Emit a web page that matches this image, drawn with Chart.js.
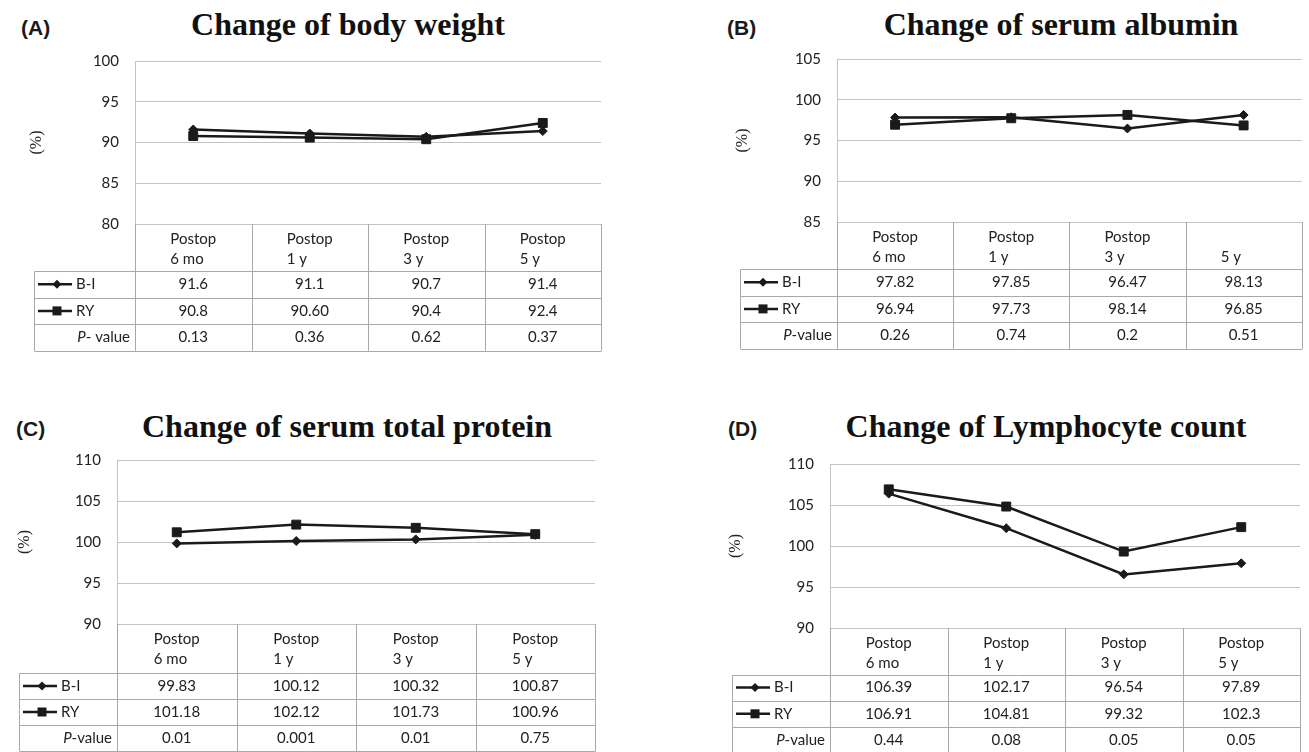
<!DOCTYPE html>
<html><head><meta charset="utf-8">
<script src="https://cdn.jsdelivr.net/npm/chart.js@4.4.0/dist/chart.umd.min.js"></script>
<style>
html,body{margin:0;padding:0;background:#fff;}
body{width:1309px;height:752px;position:relative;overflow:hidden;}
.tag{position:absolute;font:bold 21px "Liberation Sans",Arial,sans-serif;line-height:21px;color:#1a1a1a;white-space:nowrap;}
.ttl{position:absolute;font:bold 32px "Liberation Serif","Times New Roman",serif;line-height:32px;color:#111;transform:translateX(-50%);white-space:nowrap;}
canvas{position:absolute;}
</style></head><body>
<script>
// ---------- data ----------
const categories = [['Postop','6 mo'],['Postop','1 y'],['Postop','3 y'],['Postop','5 y']];
const categoriesB = [['Postop','6 mo'],['Postop','1 y'],['Postop','3 y'],['','5 y']];
const seriesNames = ['B-I','RY'];
const yAxisLabel = '(%)';
const panelTags = ['(A)','(B)','(C)','(D)'];
const pLabels = ['P- value','P-value','P-value','P-value'];

const weightTitle = 'Change of body weight';
const weightBI = ['91.6','91.1','90.7','91.4'];
const weightRY = ['90.8','90.60','90.4','92.4'];
const weightP = ['0.13','0.36','0.62','0.37'];
const weightTicks = [80,85,90,95,100];

const albuminTitle = 'Change of serum albumin';
const albuminBI = ['97.82','97.85','96.47','98.13'];
const albuminRY = ['96.94','97.73','98.14','96.85'];
const albuminP = ['0.26','0.74','0.2','0.51'];
const albuminTicks = [85,90,95,100,105];

const proteinTitle = 'Change of serum total protein';
const proteinBI = ['99.83','100.12','100.32','100.87'];
const proteinRY = ['101.18','102.12','101.73','100.96'];
const proteinP = ['0.01','0.001','0.01','0.75'];
const proteinTicks = [90,95,100,105,110];

const lymphTitle = 'Change of Lymphocyte count';
const lymphBI = ['106.39','102.17','96.54','97.89'];
const lymphRY = ['106.91','104.81','99.32','102.3'];
const lymphP = ['0.44','0.08','0.05','0.05'];
const lymphTicks = [90,95,100,105,110];

// ---------- layout (page coordinates) ----------
const layouts = [
 {x:0,   y:0,   w:654, h:376, plotL:135, plotR:601,  plotT:61,  plotB:224, tableL:34,  headH:47, rowH:26.6, pctX:37,  titleX:348,  titleY:8,   tagX:21,  tagY:17},
 {x:654, y:0,   w:655, h:376, plotL:837, plotR:1305, plotT:59,  plotB:222, tableL:740, headH:47, rowH:26.6, pctX:743, titleX:1061, titleY:8,   tagX:727, tagY:17},
 {x:0,   y:376, w:654, h:376, plotL:117, plotR:595,  plotT:460, plotB:624, tableL:19,  headH:49, rowH:26,   pctX:25,  titleX:347, titleY:410, tagX:16,  tagY:418},
 {x:654, y:376, w:655, h:376, plotL:830, plotR:1300, plotT:464, plotB:628, tableL:732, headH:46.5, rowH:26.2, pctX:736, titleX:1046, titleY:410, tagX:728, tagY:418}
];

const panels = [
 {title:weightTitle,  cats:categories,  bi:weightBI,  ry:weightRY,  p:weightP,  ticks:weightTicks},
 {title:albuminTitle, cats:categoriesB, bi:albuminBI, ry:albuminRY, p:albuminP, ticks:albuminTicks},
 {title:proteinTitle, cats:categories,  bi:proteinBI, ry:proteinRY, p:proteinP, ticks:proteinTicks},
 {title:lymphTitle,   cats:categories,  bi:lymphBI,   ry:lymphRY,   p:lymphP,   ticks:lymphTicks}
];

const LINE = '#1a1a1a';
const GRID = '#c3c3c3';
const TBL = '#a8a8a8';
const TXT = '#222';
const FONT = 'Lato, "Noto Sans", sans-serif';

function px(v){ return Math.round(v) + 0.5; }

function drawDiamond(ctx, x, y, r){
  ctx.beginPath(); ctx.moveTo(x, y-r); ctx.lineTo(x+r, y); ctx.lineTo(x, y+r); ctx.lineTo(x-r, y); ctx.closePath(); ctx.fill();
}

function makeTablePlugin(pi){
  const L = layouts[pi], P = panels[pi];
  return {
    id:'table'+pi,
    afterDraw(chart){
      const ctx = chart.ctx;
      const {left, right, bottom} = chart.chartArea;
      const xs = chart.scales.x;
      const n = P.cats.length;
      const cw = (right-left)/n;
      const tL = L.tableL - L.x;
      const y0 = bottom, y1 = y0 + L.headH, y2 = y1 + L.rowH, y3 = y2 + L.rowH, y4 = y3 + L.rowH;
      ctx.save();
      ctx.strokeStyle = TBL; ctx.lineWidth = 1;
      ctx.beginPath();
      for (let i=0;i<=n;i++){ const x = px(left + i*cw); ctx.moveTo(x, y0); ctx.lineTo(x, y4); }
      ctx.moveTo(px(tL), px(y1)); ctx.lineTo(px(tL), y4);
      [y1,y2,y3,y4].forEach(y=>{ ctx.moveTo(px(tL), px(y)); ctx.lineTo(px(right), px(y)); });
      ctx.stroke();

      ctx.fillStyle = TXT;
      ctx.font = '15px ' + FONT;
      ctx.textBaseline = 'middle';
      const pw = ctx.measureText('Postop').width;
      for (let i=0;i<n;i++){
        const cx = xs.getPixelForValue(i);
        const [l1, l2] = P.cats[i];
        if (l1){ ctx.textAlign = 'center'; ctx.fillText(l1, cx, y0 + 15); }
        ctx.textAlign = 'left'; ctx.fillText(l2, cx - pw/2, y0 + 35);
        ctx.textAlign = 'center';
        ctx.fillText(P.bi[i], cx, (y1+y2)/2);
        ctx.fillText(P.ry[i], cx, (y2+y3)/2);
        ctx.fillText(P.p[i],  cx, (y3+y4)/2);
      }
      // legend keys
      const rows = [(y1+y2)/2, (y2+y3)/2];
      ctx.strokeStyle = LINE; ctx.fillStyle = LINE; ctx.lineWidth = 2.5;
      rows.forEach((ry, k)=>{
        ctx.beginPath(); ctx.moveTo(tL+4, ry); ctx.lineTo(tL+38, ry); ctx.stroke();
        if (k===0) drawDiamond(ctx, tL+23, ry, 4.5);
        else ctx.fillRect(tL+18.5, ry-4.5, 9, 9);
        ctx.fillStyle = TXT; ctx.textAlign='left';
        ctx.fillText(seriesNames[k], tL+42, ry);
        ctx.fillStyle = LINE;
      });
      // P-value label
      const lab = pLabels[pi];
      const rest = lab.slice(1);
      ctx.fillStyle = TXT;
      ctx.font = '15px ' + FONT;
      const rw = ctx.measureText(rest).width;
      const rx = left - 5;
      ctx.textAlign = 'right';
      ctx.fillText(rest, rx, (y3+y4)/2);
      ctx.font = 'italic 15px ' + FONT;
      ctx.fillText(lab[0], rx - rw, (y3+y4)/2);
      ctx.restore();
    }
  };
}

function build(){
  panels.forEach((P, pi)=>{
    const L = layouts[pi];
    const tag = document.createElement('div');
    tag.className='tag'; tag.textContent = panelTags[pi];
    tag.style.left = L.tagX+'px'; tag.style.top = L.tagY+'px';
    document.body.appendChild(tag);
    const t = document.createElement('div');
    t.className='ttl'; t.textContent = P.title;
    t.style.left = L.titleX+'px'; t.style.top = L.titleY+'px';
    document.body.appendChild(t);

    const cv = document.createElement('canvas');
    cv.width = L.w; cv.height = L.h;
    cv.style.left = L.x+'px'; cv.style.top = L.y+'px';
    cv.style.width = L.w+'px'; cv.style.height = L.h+'px';
    document.body.appendChild(cv);

    const padL = L.pctX - L.x - 9.6;
    const yMin = P.ticks[0], yMax = P.ticks[P.ticks.length-1];
    new Chart(cv.getContext('2d'), {
      type:'line',
      data:{
        labels: P.cats.map(c=>c.join(' ')),
        datasets:[
          {label:seriesNames[0], data:P.bi.map(Number), borderColor:LINE, backgroundColor:LINE, borderWidth:2.5,
           pointStyle:'rectRot', pointRadius:4.5, pointBorderWidth:1, pointBackgroundColor:LINE, pointBorderColor:LINE, tension:0, fill:false},
          {label:seriesNames[1], data:P.ry.map(Number), borderColor:LINE, backgroundColor:LINE, borderWidth:2.5,
           pointStyle:'rect', pointRadius:6.3, pointBorderWidth:1, pointBackgroundColor:LINE, pointBorderColor:LINE, tension:0, fill:false}
        ]
      },
      options:{
        responsive:false, animation:false, devicePixelRatio:1,
        layout:{padding:{left:padL, top:L.plotT - L.y, right:(L.x + L.w) - L.plotR, bottom:0}},
        plugins:{legend:{display:false}, tooltip:{enabled:false}, title:{display:false}},
        scales:{
          x:{type:'category', offset:true,
             grid:{display:false, drawTicks:false}, border:{display:false},
             ticks:{display:false},
             afterFit:(s)=>{ s.height = L.h - (L.plotB - L.y); }},
          y:{min:yMin, max:yMax,
             afterBuildTicks:(s)=>{ s.ticks = P.ticks.map(v=>({value:v})); },
             ticks:{padding:16, color:TXT, font:{family:FONT, size:15}},
             grid:{color:GRID, lineWidth:1, drawTicks:false},
             border:{display:true, color:GRID, width:1},
             title:{display:true, text:yAxisLabel, color:TXT, padding:0,
                    font:{family:'"Liberation Serif","Times New Roman",serif', size:16}},
             afterFit:(s)=>{ s.width = (L.plotL - L.x) - padL; }}
        }
      },
      plugins:[makeTablePlugin(pi)]
    });
  });
}

const fontLoads = ['15px Lato','italic 15px Lato','bold 32px "Liberation Serif"','16px "Liberation Serif"','bold 21px "Liberation Sans"']
  .map(f=>document.fonts.load(f).catch(()=>null));
Promise.all(fontLoads).then(build, build);
</script>
</body></html>
